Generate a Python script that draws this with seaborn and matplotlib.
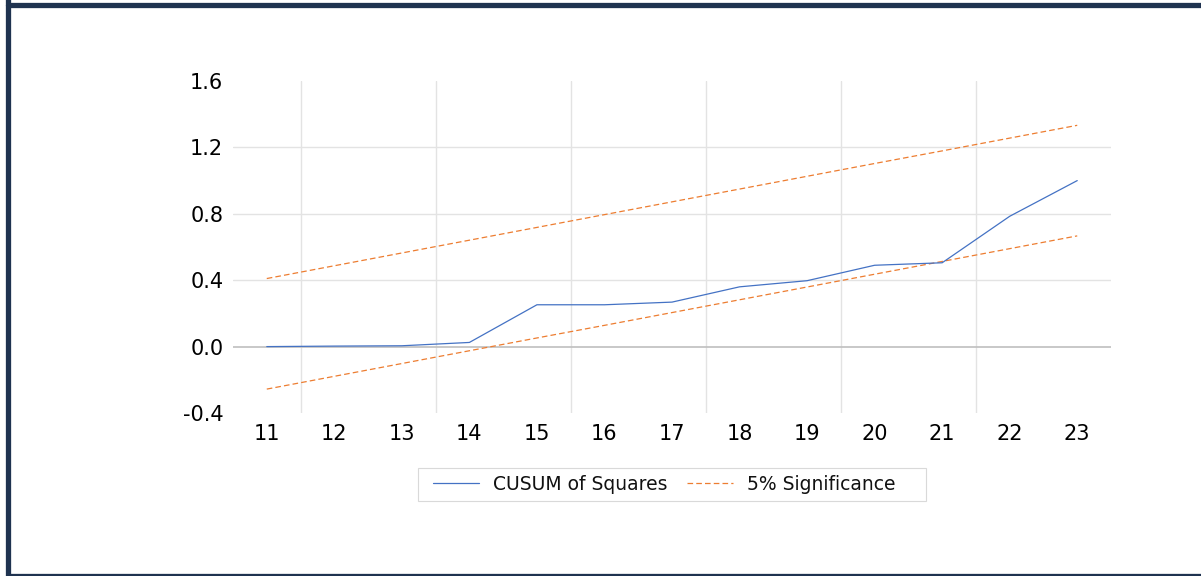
import matplotlib
matplotlib.use("Agg")
import matplotlib.pyplot as plt
import seaborn as sns
import pandas as pd
from matplotlib.lines import Line2D
from matplotlib.patches import Rectangle

# Observation index
periods = [11, 12, 13, 14, 15, 16, 17, 18, 19, 20, 21, 22, 23]

# CUSUM of squares statistic
cusum_sq = [0.000, 0.003, 0.005, 0.025, 0.252, 0.252, 0.268, 0.360, 0.397,
            0.490, 0.505, 0.785, 1.000]

# 5% significance bounds
upper_bound = [0.410, 0.487, 0.564, 0.641, 0.718, 0.795, 0.872, 0.949, 1.026,
               1.103, 1.179, 1.256, 1.333]
lower_bound = [-0.256, -0.179, -0.102, -0.025, 0.052, 0.128, 0.205, 0.282,
               0.359, 0.436, 0.513, 0.590, 0.667]

y_ticks = [-0.4, 0.0, 0.4, 0.8, 1.2, 1.6]

BLUE = "#4472C4"
ORANGE = "#ED7D31"
GRID = "#E3E3E3"
ZERO = "#BFBFBF"
NAVY = "#1F3350"

sns.set_theme(style="white")
plt.rcParams["font.family"] = ["DejaVu Sans"]

W, H = 1201, 576
fig = plt.figure(figsize=(W / 100, H / 100), dpi=100)
fig.patch.set_facecolor("white")

left, right, top, bottom = 233, 1111, 81, 413
ax = fig.add_axes([left / W, 1 - bottom / H, (right - left) / W, (bottom - top) / H])

df = pd.DataFrame({
    "period": periods,
    "cusum": cusum_sq,
    "upper": upper_bound,
    "lower": lower_bound,
})

# Light grid: every second category boundary and interior y levels
for xb in [11.5, 13.5, 15.5, 17.5, 19.5, 21.5]:
    ax.axvline(xb, color=GRID, lw=1.0, zorder=0)
for yv in [0.4, 0.8, 1.2]:
    ax.axhline(yv, color=GRID, lw=1.0, zorder=0)
ax.axhline(0.0, color=ZERO, lw=1.2, zorder=1)

dash = (4.5, 2.5)
sns.lineplot(data=df, x="period", y="upper", ax=ax, color=ORANGE, lw=0.9,
             zorder=3).lines[-1].set_dashes(dash)
sns.lineplot(data=df, x="period", y="lower", ax=ax, color=ORANGE, lw=0.9,
             zorder=3).lines[-1].set_dashes(dash)
sns.lineplot(data=df, x="period", y="cusum", ax=ax, color=BLUE, lw=0.9, zorder=4)

ax.set_xlim(10.5, 23.5)
ax.set_ylim(-0.4, 1.6)
ax.set_xticks(periods)
ax.set_xticklabels([str(p) for p in periods])
ax.set_yticks(y_ticks)
ax.set_yticklabels([f"{v:.1f}" for v in y_ticks])
ax.set_xlabel("")
ax.set_ylabel("")
ax.tick_params(axis="both", length=0, labelsize=15, colors="black")
ax.tick_params(axis="x", pad=8)
ax.tick_params(axis="y", pad=7)
for s in ax.spines.values():
    s.set_visible(False)
ax.set_facecolor("none")

# Legend box drawn separately so its padding can be set per side
fig.add_artist(Rectangle((418 / W, 1 - 501 / H), (926 - 418) / W, 33 / H,
                         transform=fig.transFigure, facecolor="white",
                         edgecolor="#D9D9D9", lw=0.8, zorder=5))
handles = [
    Line2D([], [], color=BLUE, lw=0.9),
    Line2D([], [], color=ORANGE, lw=0.9, dashes=dash),
]
leg = fig.legend(handles, ["CUSUM of Squares", "5% Significance"],
                 loc="center", bbox_to_anchor=(664 / W, 1 - 484.5 / H),
                 ncol=2, frameon=False, fontsize=13.5,
                 handlelength=2.45, columnspacing=1.05, handletextpad=0.75,
                 borderpad=0.5, labelcolor="#111111")
leg.set_zorder(6)

# Outer frame (left, top and bottom edges)
lw_frame = 3.8
fig.add_artist(Line2D([7.5 / W, 7.5 / W], [1 - 2 / H, 1 - 575.5 / H],
                      transform=fig.transFigure, color=NAVY, lw=lw_frame,
                      solid_capstyle="projecting"))
fig.add_artist(Line2D([7.5 / W, 1.0], [1 - 4.5 / H, 1 - 4.5 / H],
                      transform=fig.transFigure, color=NAVY, lw=lw_frame))
fig.add_artist(Line2D([7.5 / W, 1.0], [1 - 575.5 / H, 1 - 575.5 / H],
                      transform=fig.transFigure, color=NAVY, lw=lw_frame))

fig.savefig("out.png", dpi=100, facecolor="white")
